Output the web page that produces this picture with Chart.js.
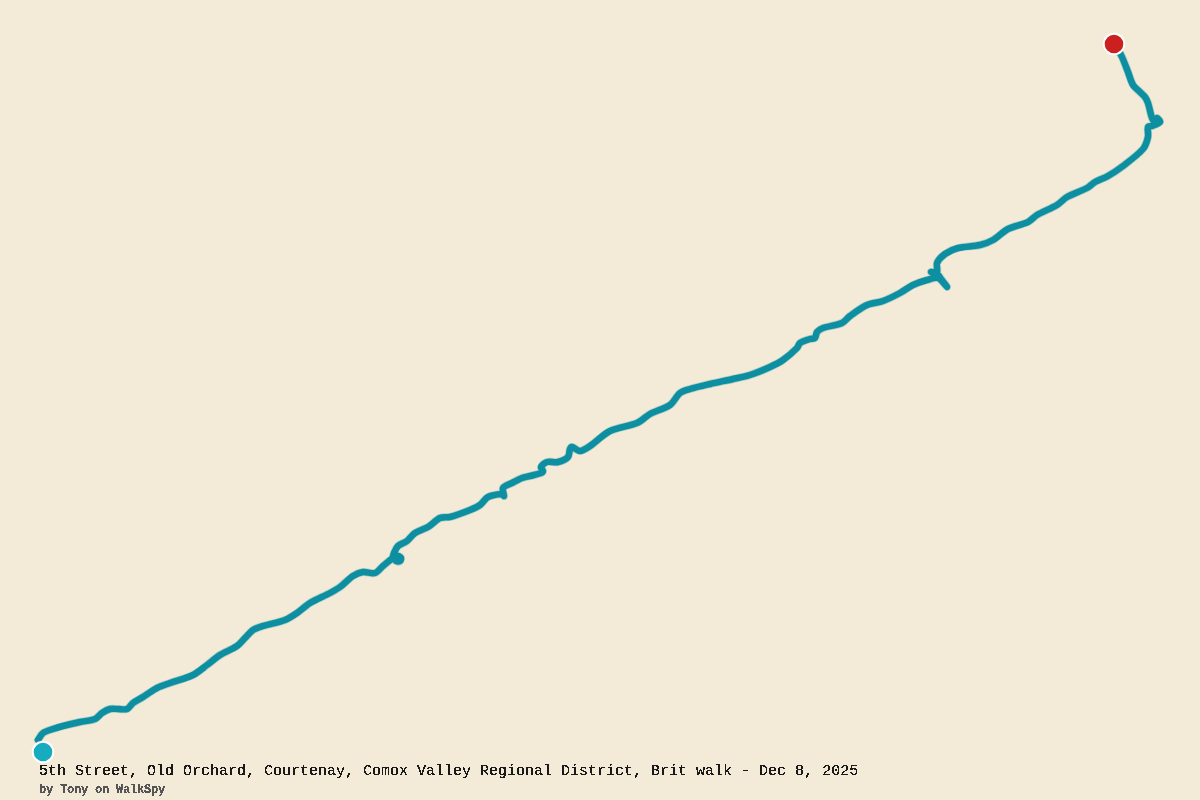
<!DOCTYPE html>
<html>
<head>
<meta charset="utf-8">
<title>Walk route</title>
<script src="https://cdn.jsdelivr.net/npm/chart.js@4"></script>
<style>
    html, body { margin: 0; padding: 0; background: #f3ebd8; overflow: hidden; }
    #routeChart { display: block; }
</style>
</head>
<body>
<canvas id="routeChart" width="1200" height="800"></canvas>
<script>
const routeX = [38, 43, 53, 63, 80, 95, 102, 110, 118, 127, 133, 143, 157, 170, 193, 207, 220, 237, 245, 253, 263, 285, 297, 310, 330, 340, 353, 363, 375, 383, 393, 398, 401, 400, 396, 393, 394, 398, 407, 415, 428, 440, 450, 470, 480, 488, 502, 504, 503, 512, 522, 530, 541, 543, 541, 547, 558, 568, 570, 572, 580, 590, 610, 637, 650, 670, 680, 690, 710, 733, 750, 770, 783, 797, 800, 810, 815, 817, 823, 842, 850, 867, 883, 900, 913, 927, 938, 947, 941, 938, 931, 937, 937, 945, 958, 980, 993, 1008, 1028, 1037, 1057, 1067, 1087, 1095, 1108, 1123, 1143, 1148, 1148, 1152, 1160, 1157, 1155, 1152, 1148, 1145, 1140, 1133, 1128, 1122, 1115];
const routeY = [740, 733, 729, 726, 722, 719, 713, 709, 709, 709, 703, 697, 688, 683, 675, 665, 655, 646, 638, 630, 626, 620, 613, 603, 593, 587, 576, 572, 573, 566, 558, 556, 558, 561, 561, 557, 553, 546, 541, 533, 527, 518, 517, 510, 505, 497, 494, 496, 488, 483, 478, 476, 473, 471, 467, 462, 462, 457, 449, 447, 451, 446, 431, 423, 414, 405, 393, 389, 384, 379, 375, 367, 360, 348, 343, 339, 338, 332, 328, 323, 316, 305, 301, 293, 285, 280, 278, 287, 279, 275, 272, 272, 263, 254, 248, 245, 240, 229, 222, 215, 205, 197, 188, 182, 176, 166, 149, 137, 127, 126, 122, 118, 122, 118, 103, 97, 92, 85, 72, 57, 44];
const startX = [43];
const startY = [752];
const endX = [1114];
const endY = [44];
const titleText = '5th Street, Old Orchard, Courtenay, Comox Valley Regional District, Brit walk - Dec 8, 2025';
const bylineText = 'by Tony on WalkSpy';

function toPoints(xs, ys) {
    return xs.map(function(x, i) { return { x: x, y: ys[i] }; });
}

// title and byline sit inside the plot, so the scale still covers the whole page
const captionPlugin = {
    id: 'caption',
    afterDraw: function(chart) {
        const ctx = chart.ctx;
        ctx.save();
        ctx.textBaseline = 'alphabetic';
        ctx.font = '15px "Liberation Mono"';
        ctx.fillStyle = '#1a1a1a';
        ctx.fillText(titleText, 39, 775);
        ctx.font = 'bold 12px "Liberation Mono"';
        ctx.letterSpacing = '-0.2px';
        ctx.fillStyle = '#555555';
        ctx.fillText(bylineText, 39, 793);
        ctx.restore();

        // the original text has hard pixel edges, so drop the antialiasing
        const strip = ctx.getImageData(0, 764, 1200, 36);
        for (let i = 3; i < strip.data.length; i += 4) {
            strip.data[i] = strip.data[i] > 90 ? 255 : 0;
        }
        ctx.putImageData(strip, 0, 764);
    }
};

new Chart(document.getElementById('routeChart').getContext('2d'), {
    type: 'line',
    data: {
        datasets: [
            {
                data: toPoints(startX, startY),
                pointRadius: 10.3,
                pointBackgroundColor: '#17abc0',
                pointBorderColor: '#ffffff',
                pointBorderWidth: 2,
                showLine: false,
                order: 0
            },
            {
                data: toPoints(endX, endY),
                pointRadius: 10.3,
                pointBackgroundColor: '#cc2020',
                pointBorderColor: '#ffffff',
                pointBorderWidth: 2,
                showLine: false,
                order: 0
            },
            {
                data: toPoints(routeX, routeY),
                borderColor: '#0e8fa1',
                borderWidth: 6.5,
                borderCapStyle: 'round',
                borderJoinStyle: 'round',
                pointRadius: 0,
                tension: 0.3,
                order: 1
            },
            {
                data: toPoints(routeX, routeY),
                borderColor: 'rgba(14, 143, 161, 0.3)',
                borderWidth: 8,
                borderCapStyle: 'round',
                borderJoinStyle: 'round',
                pointRadius: 0,
                tension: 0.3,
                order: 2
            }
        ]
    },
    options: {
        responsive: false,
        animation: false,
        layout: { padding: 0, autoPadding: false },
        plugins: {
            legend: { display: false },
            tooltip: { enabled: false }
        },
        scales: {
            x: { type: 'linear', min: 0, max: 1200, display: false },
            y: { type: 'linear', min: 0, max: 800, reverse: true, display: false }
        }
    },
    plugins: [captionPlugin]
});
</script>
</body>
</html>
